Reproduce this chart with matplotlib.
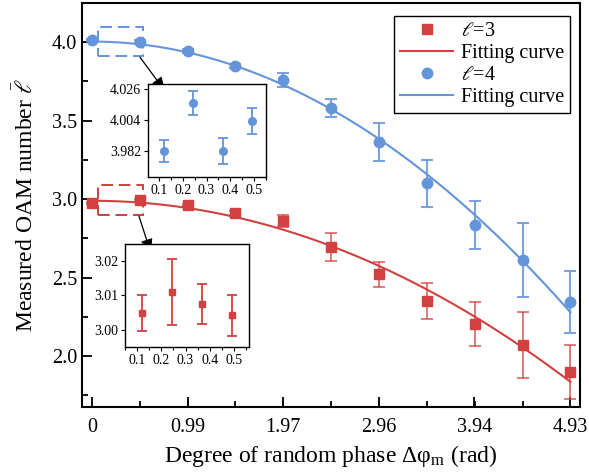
import numpy as np
import matplotlib
matplotlib.use('Agg')
import matplotlib.pyplot as plt
from matplotlib.patches import Rectangle
from matplotlib.ticker import MultipleLocator

plt.rcParams['font.family'] = ['Liberation Serif', 'DejaVu Serif']
plt.rcParams['mathtext.fontset'] = 'stix'

# ---------------- data ----------------
phase = [0, 0.493, 0.986, 1.479, 1.972, 2.465, 2.958, 3.451, 3.944, 4.437, 4.93]
x_ticks = [0, 0.99, 1.97, 2.96, 3.94, 4.93]
x_ticklabels = ['0', '0.99', '1.97', '2.96', '3.94', '4.93']

l3_mean = [2.975, 2.994, 2.962, 2.911, 2.860, 2.694, 2.522, 2.350, 2.204, 2.070, 1.898]
l3_err = [0.006, 0.008, 0.008, 0.010, 0.038, 0.090, 0.080, 0.115, 0.140, 0.210, 0.170]
l4_mean = [4.013, 4.002, 3.943, 3.847, 3.758, 3.580, 3.363, 3.102, 2.834, 2.611, 2.344]
l4_err = [0.008, 0.009, 0.010, 0.012, 0.045, 0.057, 0.120, 0.150, 0.155, 0.235, 0.200]

# zoom-in data (first interval)
zoom_x = [0.12, 0.245, 0.37, 0.49]
zoom_l3 = [3.0049, 3.0110, 3.0075, 3.0043]
zoom_l3_err = [0.0053, 0.0096, 0.0057, 0.0059]
zoom_l4 = [3.982, 4.016, 3.982, 4.0033]
zoom_l4_err = [0.0078, 0.0088, 0.0095, 0.0089]

red = '#d2403f'
blue = '#6494d9'

# ---------------- main plot ----------------
fig = plt.figure(figsize=(5.89, 4.75), dpi=100)
ax = fig.add_axes([0.139, 0.143, 0.846, 0.851])

# fitting curves (least squares a + b*x^2 on the data)
xf = np.linspace(0, 4.93, 200)
A = np.vstack([np.ones(len(phase)), np.array(phase) ** 2]).T
c3 = np.linalg.lstsq(A, np.array(l3_mean), rcond=None)[0]
c4 = np.linalg.lstsq(A, np.array(l4_mean), rcond=None)[0]

ax.errorbar(phase, l3_mean, yerr=l3_err, fmt='none', ecolor=red, alpha=0.75,
            elinewidth=1.3, capsize=4, capthick=1.3)
ax.plot(phase, l3_mean, 's', color=red, ms=6.5, label=r'$\ell$=3')
ax.plot(xf, c3[0] + c3[1] * xf ** 2, '-', color=red, lw=1.5, label='Fitting curve')
ax.errorbar(phase, l4_mean, yerr=l4_err, fmt='none', ecolor=blue, alpha=0.85,
            elinewidth=1.5, capsize=4.5, capthick=1.5)
ax.plot(phase, l4_mean, 'o', color=blue, ms=7.5, label=r'$\ell$=4')
ax.plot(xf, c4[0] + c4[1] * xf ** 2, '-', color=blue, lw=1.5, label='Fitting curve')

ax.set_xlim(-0.103, 5.03)
ax.set_ylim(1.675, 4.25)
ax.set_xticks(x_ticks)
ax.set_xticklabels(x_ticklabels)
ax.xaxis.set_minor_locator(MultipleLocator(0.493))
ax.yaxis.set_major_locator(MultipleLocator(0.5))
ax.yaxis.set_minor_locator(MultipleLocator(0.25))
ax.tick_params(which='both', direction='in', labelsize=14.5, width=1.3)
ax.tick_params(which='major', length=7)
ax.tick_params(which='minor', length=4)
ax.tick_params(axis='x', pad=8)
for s in ax.spines.values():
    s.set_linewidth(1.5)

ax.set_xlabel(r'Degree of random phase Δφ$_\mathregular{m}$ (rad)', fontsize=17, labelpad=4)
ax.set_ylabel(r'Measured OAM number $\bar{\ell}$', fontsize=17, labelpad=10)

leg = ax.legend(loc='upper right', bbox_to_anchor=(0.98, 0.968), borderaxespad=0,
                fontsize=14.5, fancybox=False, framealpha=1, edgecolor='k',
                handlelength=2.6, handletextpad=0.4, labelspacing=0.15,
                numpoints=1, borderpad=0.3)
leg.get_frame().set_linewidth(1.0)

# dashed boxes marking the zoomed region
ax.add_patch(Rectangle((0.062, 3.911), 0.464, 0.185, fill=False, ec=blue,
                       lw=1.4, ls=(0, (6, 3))))
ax.add_patch(Rectangle((0.062, 2.898), 0.464, 0.191, fill=False, ec=red,
                       lw=1.4, ls=(0, (6, 3))))
arrow = dict(arrowstyle='-|>,head_length=0.7,head_width=0.3', color='black',
             lw=0.9, mutation_scale=12, shrinkA=0, shrinkB=0)
ax.annotate('', xy=(0.753, 3.688), xytext=(0.495, 3.904), arrowprops=arrow)
ax.annotate('', xy=(0.608, 2.656), xytext=(0.485, 2.892), arrowprops=arrow)

# ---------------- insets ----------------
ins4 = fig.add_axes([0.2513, 0.6274, 0.2003, 0.1958])
ins4.errorbar(zoom_x, zoom_l4, yerr=zoom_l4_err, fmt='o', color=blue, ms=5.5,
              elinewidth=1.3, capsize=3.5, capthick=1.3)
ins4.set_xlim(0.054, 0.55)
ins4.set_ylim(3.9635, 4.0296)
ins4.set_yticks([3.982, 4.004, 4.026])
ins4.set_yticklabels(['3.982', '4.004', '4.026'])

ins3 = fig.add_axes([0.2122, 0.2695, 0.2105, 0.2168])
ins3.errorbar(zoom_x, zoom_l3, yerr=zoom_l3_err, fmt='s', color=red, ms=5,
              elinewidth=1.3, capsize=3.5, capthick=1.3)
ins3.set_xlim(0.05, 0.562)
ins3.set_ylim(2.9951, 3.0249)
ins3.set_yticks([3.00, 3.01, 3.02])
ins3.set_yticklabels(['3.00', '3.01', '3.02'])

for ia in (ins3, ins4):
    ia.set_xticks([0.1, 0.2, 0.3, 0.4, 0.5])
    ia.set_xticklabels(['0.1', '0.2', '0.3', '0.4', '0.5'])
    ia.xaxis.set_minor_locator(MultipleLocator(0.05))
    ia.tick_params(which='both', direction='out', labelsize=10, width=0.8, pad=2)
    ia.tick_params(which='major', length=3)
    ia.tick_params(which='minor', length=1.8)
    for s in ia.spines.values():
        s.set_linewidth(1.0)

fig.savefig('out.png', dpi=100)
